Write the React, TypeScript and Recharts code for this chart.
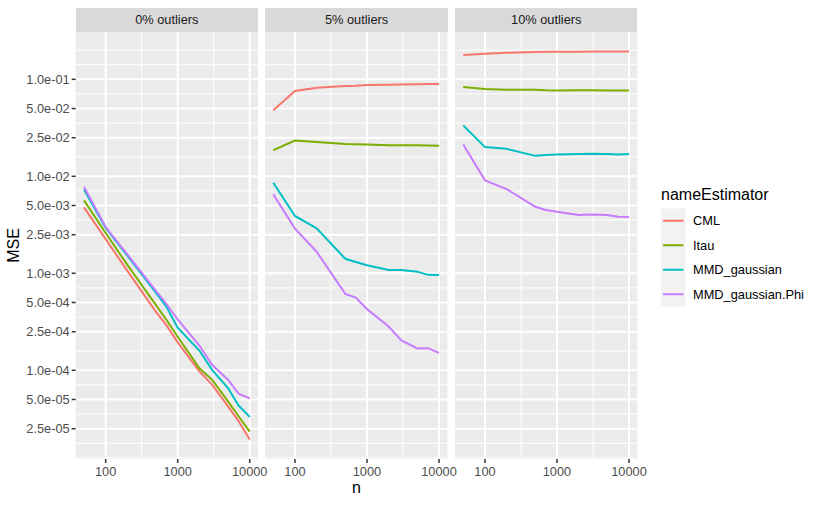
import React from 'react';
import { LineChart, Line, XAxis, YAxis, CartesianGrid } from 'recharts';

// ---------- data ----------
const nValues = [50, 100, 200, 500, 700, 1000, 2000, 3000, 5000, 7000, 10000];
const panelLabels = ['0% outliers', '5% outliers', '10% outliers'];
const seriesNames = ['CML', 'Itau', 'MMD_gaussian', 'MMD_gaussian.Phi'];
const seriesColors = ['#F8766D', '#7CAE00', '#00BFC4', '#C77CFF'];
const xTickValues = [100, 1000, 10000];
const yTickValues = [1e-1, 5e-2, 2.5e-2, 1e-2, 5e-3, 2.5e-3, 1e-3, 5e-4, 2.5e-4, 1e-4, 5e-5, 2.5e-5];

// 0% outliers
const cml0 = [0.00479, 0.00225, 0.00106, 0.0004, 0.00029, 0.000194, 0.0000975, 0.0000711, 0.0000425, 0.0000299, 0.0000193];
const itau0 = [0.00565, 0.0026, 0.00122, 0.00047, 0.00033, 0.000222, 0.000105, 0.00008, 0.0000479, 0.0000336, 0.0000233];
const mmd0 = [0.00733, 0.00293, 0.00152, 0.00063, 0.00045, 0.000275, 0.00016, 0.000101, 0.0000657, 0.0000433, 0.0000331];
const phi0 = [0.0078, 0.003, 0.00157, 0.00066, 0.00048, 0.000334, 0.00018, 0.000114, 0.00008, 0.0000575, 0.0000514];
// 5% outliers
const cml5 = [0.048, 0.0758, 0.082, 0.0853, 0.086, 0.0874, 0.088, 0.0885, 0.089, 0.0895, 0.0895];
const itau5 = [0.0186, 0.0234, 0.0226, 0.0216, 0.0214, 0.0213, 0.0209, 0.0209, 0.0209, 0.0208, 0.0207];
const mmd5 = [0.00857, 0.0039, 0.00291, 0.00141, 0.00131, 0.00121, 0.00108, 0.00108, 0.00104, 0.000964, 0.00096];
const phi5 = [0.00652, 0.00289, 0.00167, 0.000614, 0.000562, 0.000427, 0.000283, 0.000203, 0.000168, 0.000169, 0.000151];
// 10% outliers
const cml10 = [0.178, 0.184, 0.188, 0.191, 0.192, 0.193, 0.193, 0.194, 0.194, 0.194, 0.194];
const itau10 = [0.0834, 0.0795, 0.0783, 0.0783, 0.0771, 0.0765, 0.0771, 0.0771, 0.0768, 0.0765, 0.0765];
const mmd10 = [0.0334, 0.02, 0.0192, 0.01625, 0.0166, 0.0168, 0.017, 0.0171, 0.017, 0.0168, 0.017];
const phi10 = [0.0213, 0.00908, 0.00739, 0.00485, 0.00449, 0.00431, 0.00399, 0.00405, 0.00399, 0.00384, 0.00381];

const panelSeries = [
  [cml0, itau0, mmd0, phi0],
  [cml5, itau5, mmd5, phi5],
  [cml10, itau10, mmd10, phi10],
];

// ---------- derived ----------
const FONT = '"Liberation Sans", Arial, Helvetica, sans-serif';
const log10 = Math.log10;

const buildRows = (series: number[][]) =>
  nValues.map((n, i) => {
    const row: Record<string, number> = { n };
    series.forEach((s, j) => {
      row['s' + j] = s[i];
    });
    return row;
  });

const allY = panelSeries.flat(2);
const yLo = log10(Math.min(...allY));
const yHi = log10(Math.max(...allY));
const yPad = (yHi - yLo) * 0.05;
const yDomain: [number, number] = [10 ** (yLo - yPad), 10 ** (yHi + yPad)];

const xLo = log10(Math.min(...nValues));
const xHi = log10(Math.max(...nValues));
const xPad = (xHi - xLo) * 0.05;
const xDomain: [number, number] = [10 ** (xLo - xPad), 10 ** (xHi + xPad)];

// ggplot-like minor breaks (midpoints in log space)
function minorBreaks(majors: number[], domain: [number, number]) {
  const b = majors.map(log10).sort((a, c) => a - c);
  const lo = log10(domain[0]);
  const hi = log10(domain[1]);
  const bd = b[1] - b[0];
  if (lo < b[0]) b.unshift(b[0] - bd);
  if (hi > b[b.length - 1]) b.push(b[b.length - 1] + bd);
  const out: number[] = [];
  for (let i = 0; i < b.length - 1; i++) {
    out.push(b[i], (b[i] + b[i + 1]) / 2);
  }
  out.push(b[b.length - 1]);
  return out.filter((v) => v >= lo && v <= hi).map((v) => 10 ** v);
}
const yMinor = minorBreaks(yTickValues, yDomain);
const xMinor = minorBreaks(xTickValues, xDomain);

const fmtSci = (v: number) => {
  const [m, e] = v.toExponential(1).split('e');
  const ei = parseInt(e, 10);
  return `${m}e${ei < 0 ? '-' : '+'}${String(Math.abs(ei)).padStart(2, '0')}`;
};

// ---------- layout ----------
const W = 817;
const H = 505;
const panelLefts = [75.7, 265.4, 455.1];
const panelW = 182.3;
const panelTop = 32;
const panelBottom = 459;
const stripTop = 8;
const rightPad = 22;

const tickStyle = { fill: '#4D4D4D', fontSize: 12.8, fontFamily: FONT };

function Panel({ idx }: { idx: number }) {
  const rows = buildRows(panelSeries[idx]);
  const showY = idx === 0;
  const left = showY ? 0 : panelLefts[idx];
  const yAxisW = showY ? panelLefts[0] : 0;
  const width = yAxisW + panelW + rightPad;
  return (
    <div style={{ position: 'absolute', left, top: 0 }}>
      <LineChart
        width={width}
        height={H}
        data={rows}
        margin={{ top: panelTop, right: rightPad, bottom: 0, left: 0 }}
      >
        <CartesianGrid
          fill="#EBEBEB"
          stroke="#FFFFFF"
          strokeWidth={1}
          horizontalValues={yMinor}
          verticalValues={xMinor}
        />
        <CartesianGrid
          fill="none"
          stroke="#FFFFFF"
          strokeWidth={2}
          horizontalValues={yTickValues}
          verticalValues={xTickValues}
        />
        <XAxis
          type="number"
          dataKey="n"
          scale="log"
          domain={xDomain}
          allowDataOverflow
          ticks={xTickValues}
          interval={0}
          tickFormatter={(v: number) => String(v)}
          tick={tickStyle}
          tickLine={{ stroke: '#333333', strokeWidth: 1.5 }}
          tickSize={4}
          tickMargin={4}
          axisLine={false}
          height={H - panelBottom}
        />
        <YAxis
          type="number"
          scale="log"
          domain={yDomain}
          allowDataOverflow
          ticks={yTickValues}
          interval={0}
          hide={!showY}
          width={yAxisW}
          tickFormatter={fmtSci}
          tick={tickStyle}
          tickLine={{ stroke: '#333333', strokeWidth: 1.5 }}
          tickSize={4}
          tickMargin={2}
          axisLine={false}
        />
        {seriesNames.map((name, j) => (
          <Line
            key={name}
            name={name}
            type="linear"
            dataKey={'s' + j}
            stroke={seriesColors[j]}
            strokeWidth={2}
            dot={false}
            activeDot={false}
            isAnimationActive={false}
          />
        ))}
      </LineChart>
    </div>
  );
}

export default function App() {
  const legendX = 661;
  const legendKeyTop = 208.5;
  const keySize = 24.5;
  return (
    <div
      style={{
        position: 'absolute',
        left: 0,
        top: 0,
        width: W,
        height: H,
        background: '#FFFFFF',
        fontFamily: FONT,
      }}
    >
      <svg width={W} height={H} style={{ position: 'absolute', left: 0, top: 0 }}>
        <text
          x={0}
          y={0}
          transform={`translate(19, ${(panelTop + panelBottom) / 2}) rotate(-90)`}
          textAnchor="middle"
          fontSize={16}
          fontFamily={FONT}
          fill="#000000"
        >
          MSE
        </text>
        <text
          x={(panelLefts[0] + panelLefts[2] + panelW) / 2}
          y={493}
          textAnchor="middle"
          fontSize={16}
          fontFamily={FONT}
          fill="#000000"
        >
          n
        </text>
        <text x={legendX} y={199.5} fontSize={16} fontFamily={FONT} fill="#000000">
          nameEstimator
        </text>
        {seriesNames.map((name, j) => {
          const top = legendKeyTop + j * keySize;
          const cy = top + keySize / 2;
          return (
            <g key={name}>
              <rect x={legendX} y={top} width={keySize} height={keySize} fill="#F2F2F2" />
              <line
                x1={legendX + 2}
                x2={legendX + keySize - 2}
                y1={cy}
                y2={cy}
                stroke={seriesColors[j]}
                strokeWidth={2}
              />
              <text x={693} y={cy + 4.5} fontSize={12.8} fontFamily={FONT} fill="#000000">
                {name}
              </text>
            </g>
          );
        })}
      </svg>
      {panelLefts.map((pl, i) => (
        <div
          key={'strip' + i}
          style={{
            position: 'absolute',
            left: pl,
            top: stripTop,
            width: panelW,
            height: panelTop - stripTop,
            background: '#D9D9D9',
            color: '#1A1A1A',
            fontSize: 12.8,
            lineHeight: `${panelTop - stripTop}px`,
            textAlign: 'center',
            fontFamily: FONT,
          }}
        >
          {panelLabels[i]}
        </div>
      ))}
      {panelLabels.map((_, i) => (
        <Panel key={'panel' + i} idx={i} />
      ))}
    </div>
  );
}
